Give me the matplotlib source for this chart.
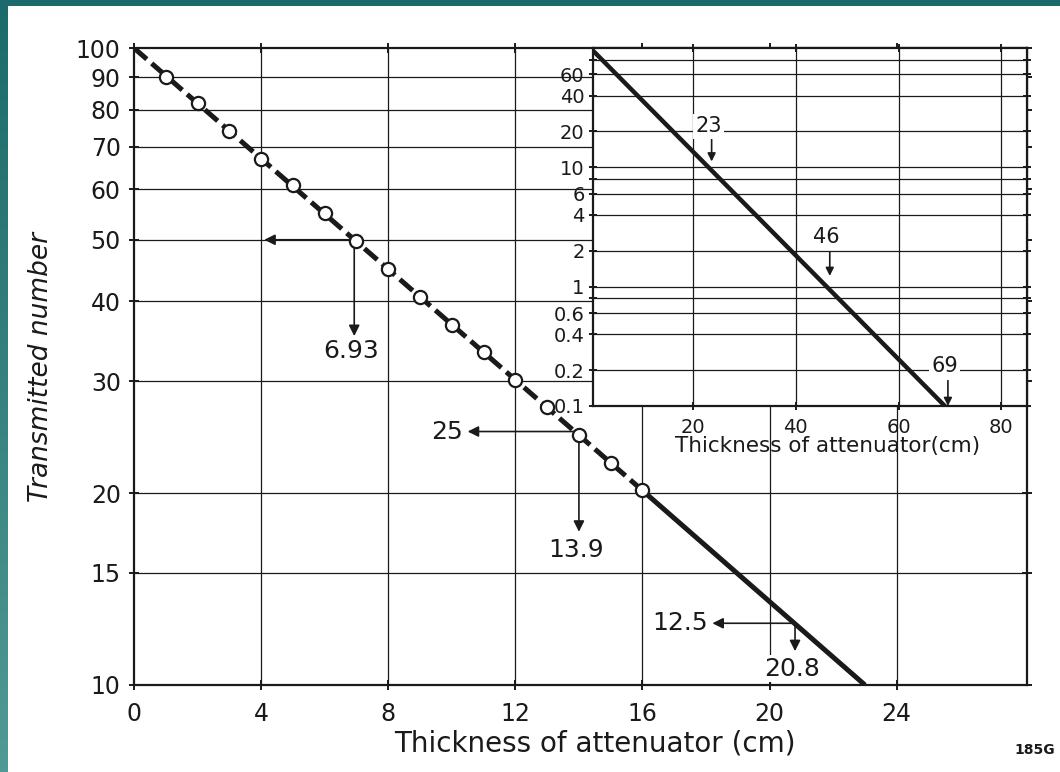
import numpy as np
import matplotlib
matplotlib.use("Agg")
import matplotlib.pyplot as plt
from matplotlib.colors import LinearSegmentedColormap
from matplotlib.ticker import FixedLocator, FixedFormatter, NullLocator

### Data
# measured points (main plot)
thick_cm = [1, 2, 3, 4, 5, 6, 7, 8, 9, 10, 11, 12, 13, 14, 15, 16]
counts = [90.0, 82.0, 74.0, 67.0, 61.0, 55.0, 49.7, 45.0, 40.7, 36.8,
          33.3, 30.1, 27.3, 24.7, 22.3, 20.2]
# drawn line: dashed through the points, solid beyond them
dash_x = [0, 16]
dash_y = [100, 20.2]
solid_x = [16, 23]
solid_y = [20.2, 10]

main_yticks = [10, 15, 20, 30, 40, 50, 60, 70, 80, 90, 100]
main_ygrid = [15, 20, 30, 40, 50, 60, 70, 80, 90]
main_xticks = [0, 4, 8, 12, 16, 20, 24]

# half value markers: (x, y, left arrow end, down arrow end)
halves_x = [6.93, 14.0, 20.8]
halves_y = [50, 25, 12.5]
halves_left = [4.1, 10.5, 18.2]
halves_down = [35.3, 17.4, 11.3]
left_labels = ["", "25", "12.5"]
down_labels = ["6.93", "13.9", "20.8"]
down_label_y = [33.4, 16.3, 10.6]

# inset (long range)
inset_x = [0, 69]
inset_y = [100, 0.1]
inset_yticks = [0.1, 0.2, 0.4, 0.6, 0.8, 1, 2, 4, 6, 8, 10, 20, 40, 60, 80]
inset_ylabels = ["0.1", "0.2", "0.4", "0.6", "", "1", "2", "4", "6", "",
                 "10", "20", "40", "60", ""]
inset_xticks = [20, 40, 60, 80]
inset_marks = [23, 46, 69]
inset_mark_top = [17.1, 1.96, 0.163]
inset_mark_tip = [11.2, 1.23, 0.1]
inset_label_y = [22, 2.6, 0.215]

ink = "#1a1a1a"
plt.rcParams["font.family"] = ["DejaVu Sans"]

fig = plt.figure(figsize=(10.6, 7.72), dpi=100)
fig.patch.set_facecolor("white")

### teal frame of the slide
band = fig.add_axes([0, 0, 8 / 1060, 1])
grad = np.linspace(0, 1, 256).reshape(-1, 1)
teal = LinearSegmentedColormap.from_list("teal", ["#1c6a6b", "#519994"])
band.imshow(grad, aspect="auto", cmap=teal, extent=[0, 1, 1, 0])
band.axis("off")
top = fig.add_axes([0, 1 - 6 / 772, 1, 6 / 772])
top.axis("off")
top.add_patch(plt.Rectangle((0, 0), 1, 1, color="#1c6a6b",
                            transform=top.transAxes))

### main plot
ax = fig.add_axes([0.1264, 0.1127, 0.9689 - 0.1264, 0.9378 - 0.1127])
ax.set_yscale("log")
ax.set_xlim(0, 28.1)
ax.set_ylim(10, 100)

for y in main_ygrid:
    ax.axhline(y, color=ink, lw=0.9, zorder=1)
for x in main_xticks[1:]:
    ax.axvline(x, color=ink, lw=0.9, zorder=1)

ax.plot(dash_x, dash_y, color=ink, lw=3.6, ls=(0, (3.4, 1.3)), zorder=3)
ax.plot(solid_x, solid_y, color=ink, lw=3.6, solid_capstyle="butt", zorder=3)

aprops = dict(arrowstyle="-|>", lw=1.2, color=ink, mutation_scale=16,
              shrinkA=0, shrinkB=0)
for i in range(len(halves_x)):
    ax.annotate("", xy=(halves_left[i], halves_y[i]),
                xytext=(halves_x[i], halves_y[i]), arrowprops=aprops, zorder=2)
    ax.annotate("", xy=(halves_x[i], halves_down[i]),
                xytext=(halves_x[i], halves_y[i]), arrowprops=aprops, zorder=2)
    if left_labels[i]:
        ax.text(halves_left[i] - 0.15, halves_y[i], left_labels[i],
                ha="right", va="center", fontsize=18, color=ink,
                bbox=dict(fc="white", ec="none", pad=1), zorder=4)
    ax.text(halves_x[i] - 0.1, down_label_y[i], down_labels[i],
            ha="center", va="center", fontsize=18, color=ink,
            bbox=dict(fc="white", ec="none", pad=1), zorder=4)

ax.plot(thick_cm, counts, ls="none", marker="o", ms=9.5, mfc="white",
        mec=ink, mew=1.6, zorder=5)

ax.yaxis.set_major_locator(FixedLocator(main_yticks))
ax.yaxis.set_major_formatter(FixedFormatter([str(v) for v in main_yticks]))
ax.yaxis.set_minor_locator(NullLocator())
ax.set_xticks(main_xticks)
ax.tick_params(axis="both", which="major", labelsize=17, colors=ink,
               direction="inout", length=7, width=1.4,
               top=True, right=True)
ax.tick_params(axis="x", pad=9)
ax.tick_params(axis="y", pad=6)
for s in ax.spines.values():
    s.set_linewidth(1.6)
    s.set_color(ink)

ax.set_xlabel("Thickness of attenuator (cm)", fontsize=20, color=ink)
ax.xaxis.set_label_coords(0.516, -0.07)
ax.set_ylabel("Transmitted number", fontsize=19, style="italic", color=ink)
ax.yaxis.set_label_coords(-0.09, 0.5)

fig.text(1035 / 1060, 1 - 750 / 772, "185G", ha="center", va="center",
         fontsize=10, fontweight="bold", color=ink)

### inset: the same attenuation over a longer range
ins = fig.add_axes([0.5594, 0.4741, 0.9689 - 0.5594, 0.9378 - 0.4741])
ins.set_facecolor("white")
ins.set_yscale("log")
ins.set_xlim(0.5, 85)
ins.set_ylim(0.1, 100)

for y in inset_yticks[1:]:
    ins.axhline(y, color=ink, lw=0.9, zorder=1)
for x in inset_xticks:
    ins.axvline(x, color=ink, lw=0.9, zorder=1)

ins.plot(inset_x, inset_y, color=ink, lw=3.2, zorder=3)

for i in range(len(inset_marks)):
    ins.annotate("", xy=(inset_marks[i] + 0.6, inset_mark_tip[i]),
                 xytext=(inset_marks[i] + 0.6, inset_mark_top[i]),
                 arrowprops=dict(arrowstyle="-|>", lw=1.2, color=ink,
                                 mutation_scale=12, shrinkA=0, shrinkB=0),
                 zorder=2)
    ins.text(inset_marks[i], inset_label_y[i], str(inset_marks[i]),
             ha="center", va="center", fontsize=15, color=ink,
             bbox=dict(fc="white", ec="none", pad=1.5), zorder=4)

ins.yaxis.set_major_locator(FixedLocator(inset_yticks))
ins.yaxis.set_major_formatter(FixedFormatter(inset_ylabels))
ins.yaxis.set_minor_locator(NullLocator())
ins.set_xticks(inset_xticks)
ins.tick_params(axis="both", which="major", labelsize=14, colors=ink,
                direction="inout", length=6, width=1.4,
                top=True, right=True)
ins.tick_params(axis="x", pad=6)
ins.tick_params(axis="y", pad=3)
for s in ins.spines.values():
    s.set_linewidth(1.6)
    s.set_color(ink)
ins.set_xlabel("Thickness of attenuator(cm)", fontsize=15.5, color=ink)
ins.xaxis.set_label_coords(0.54, -0.085)

fig.savefig("out.png", dpi=100)
